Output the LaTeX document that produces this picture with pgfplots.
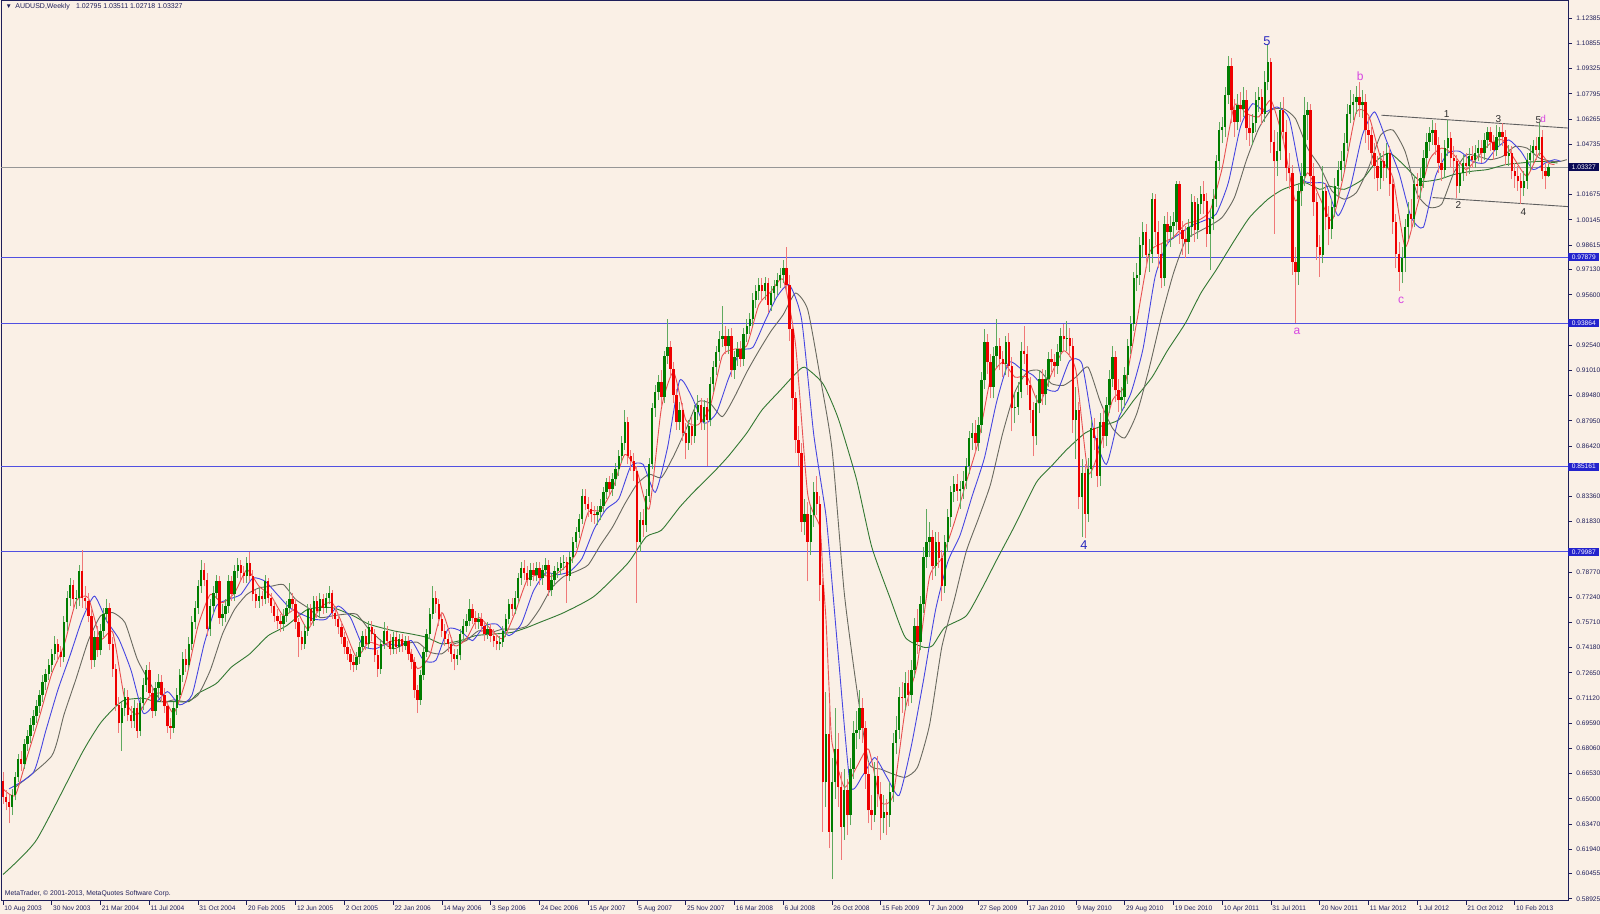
\documentclass[border=0pt]{standalone}
\usepackage{fontspec}
\setmainfont{Liberation Sans}
\usepackage{pgfplots}
\usepackage{pgfplotstable}
\pgfplotsset{compat=1.18}

\definecolor{bg}{RGB}{250,240,230}
\definecolor{fg}{RGB}{30,30,90}
\definecolor{bull}{RGB}{0,125,0}
\definecolor{bear}{RGB}{238,0,0}
\definecolor{bullwick}{RGB}{95,170,95}
\definecolor{bearwick}{RGB}{240,120,120}
\definecolor{maRed}{RGB}{232,80,80}
\definecolor{maBlue}{RGB}{70,70,225}
\definecolor{maGrey}{RGB}{105,105,95}
\definecolor{maGreen}{RGB}{50,120,50}
\definecolor{lvl}{RGB}{80,80,225}
\definecolor{lvlbox}{RGB}{35,35,205}
\definecolor{bidbox}{RGB}{10,10,85}
\definecolor{bid}{RGB}{150,150,150}
\definecolor{trend}{RGB}{95,95,95}
\definecolor{wave}{RGB}{45,45,45}
\definecolor{wavebig}{RGB}{40,40,190}
\definecolor{wavemag}{RGB}{215,70,225}

\newcommand\tk{\fontsize{3.3}{3.8}\selectfont}

% weekly AUDUSD candles, w = weeks since 10 Aug 2003
\pgfplotstableread{
w o h l c
0 0.661 0.666 0.647 0.651
1 0.651 0.655 0.643 0.648
2 0.648 0.652 0.635 0.645
3 0.645 0.656 0.640 0.652
4 0.652 0.666 0.649 0.663
5 0.663 0.677 0.660 0.674
6 0.674 0.679 0.667 0.671
7 0.671 0.686 0.668 0.683
8 0.683 0.692 0.679 0.688
9 0.688 0.699 0.684 0.695
10 0.695 0.704 0.691 0.700
11 0.700 0.710 0.696 0.706
12 0.706 0.716 0.702 0.713
13 0.713 0.725 0.709 0.721
14 0.721 0.729 0.716 0.726
15 0.726 0.735 0.722 0.731
16 0.731 0.741 0.727 0.738
17 0.738 0.749 0.734 0.744
18 0.744 0.747 0.733 0.739
19 0.739 0.743 0.730 0.736
20 0.736 0.761 0.733 0.757
21 0.757 0.776 0.752 0.772
22 0.772 0.784 0.767 0.780
23 0.780 0.783 0.765 0.771
24 0.771 0.777 0.765 0.772
25 0.772 0.792 0.767 0.788
26 0.788 0.801 0.766 0.772
27 0.772 0.779 0.765 0.770
28 0.770 0.775 0.757 0.761
29 0.761 0.765 0.729 0.734
30 0.734 0.752 0.730 0.748
31 0.748 0.755 0.736 0.740
32 0.740 0.756 0.737 0.752
33 0.752 0.766 0.748 0.762
34 0.762 0.771 0.757 0.766
35 0.766 0.769 0.740 0.744
36 0.744 0.748 0.724 0.729
37 0.729 0.732 0.703 0.707
38 0.707 0.712 0.690 0.696
39 0.696 0.709 0.679 0.705
40 0.705 0.717 0.700 0.712
41 0.712 0.716 0.697 0.701
42 0.701 0.706 0.693 0.697
43 0.697 0.710 0.693 0.705
44 0.705 0.708 0.687 0.691
45 0.691 0.712 0.688 0.708
46 0.708 0.723 0.704 0.719
47 0.719 0.731 0.715 0.728
48 0.728 0.733 0.711 0.714
49 0.714 0.718 0.699 0.703
50 0.703 0.721 0.700 0.717
51 0.717 0.726 0.712 0.721
52 0.721 0.725 0.709 0.713
53 0.713 0.717 0.702 0.706
54 0.706 0.709 0.690 0.694
55 0.694 0.699 0.686 0.693
56 0.693 0.709 0.690 0.705
57 0.705 0.717 0.701 0.713
58 0.713 0.729 0.710 0.725
59 0.725 0.739 0.721 0.735
60 0.735 0.741 0.727 0.731
61 0.731 0.748 0.728 0.744
62 0.744 0.761 0.740 0.757
63 0.757 0.770 0.753 0.766
64 0.766 0.783 0.762 0.779
65 0.779 0.795 0.775 0.789
66 0.789 0.793 0.779 0.783
67 0.783 0.787 0.749 0.753
68 0.753 0.771 0.749 0.767
69 0.767 0.779 0.762 0.775
70 0.775 0.786 0.771 0.782
71 0.782 0.785 0.756 0.760
72 0.760 0.768 0.755 0.762
73 0.762 0.771 0.757 0.767
74 0.767 0.786 0.763 0.782
75 0.782 0.785 0.770 0.774
76 0.774 0.792 0.770 0.788
77 0.788 0.796 0.784 0.792
78 0.792 0.795 0.783 0.787
79 0.787 0.791 0.781 0.785
80 0.785 0.797 0.781 0.793
81 0.793 0.800 0.782 0.785
82 0.785 0.789 0.770 0.774
83 0.774 0.777 0.766 0.770
84 0.770 0.778 0.766 0.773
85 0.773 0.776 0.767 0.771
86 0.771 0.786 0.768 0.782
87 0.782 0.784 0.769 0.772
88 0.772 0.775 0.763 0.767
89 0.767 0.770 0.757 0.761
90 0.761 0.765 0.753 0.758
91 0.758 0.762 0.751 0.756
92 0.756 0.765 0.752 0.761
93 0.761 0.770 0.757 0.766
94 0.766 0.781 0.763 0.771
95 0.771 0.775 0.764 0.768
96 0.768 0.771 0.753 0.757
97 0.757 0.760 0.736 0.748
98 0.748 0.752 0.740 0.744
99 0.744 0.756 0.741 0.752
100 0.752 0.768 0.749 0.765
101 0.765 0.768 0.754 0.758
102 0.758 0.773 0.755 0.770
103 0.770 0.773 0.760 0.764
104 0.764 0.775 0.760 0.771
105 0.771 0.774 0.762 0.766
106 0.766 0.775 0.763 0.772
107 0.772 0.779 0.768 0.775
108 0.775 0.777 0.759 0.763
109 0.763 0.767 0.755 0.759
110 0.759 0.762 0.750 0.754
111 0.754 0.757 0.744 0.748
112 0.748 0.751 0.738 0.742
113 0.742 0.746 0.734 0.738
114 0.738 0.741 0.728 0.733
115 0.733 0.737 0.727 0.731
116 0.731 0.739 0.728 0.736
117 0.736 0.745 0.732 0.742
118 0.742 0.752 0.739 0.749
119 0.749 0.753 0.740 0.744
120 0.744 0.758 0.741 0.754
121 0.754 0.758 0.746 0.750
122 0.750 0.753 0.733 0.737
123 0.737 0.740 0.724 0.729
124 0.729 0.747 0.726 0.744
125 0.744 0.757 0.741 0.752
126 0.752 0.755 0.742 0.746
127 0.746 0.750 0.737 0.741
128 0.741 0.751 0.738 0.748
129 0.748 0.751 0.738 0.742
130 0.742 0.750 0.739 0.747
131 0.747 0.750 0.739 0.743
132 0.743 0.749 0.740 0.746
133 0.746 0.749 0.734 0.738
134 0.738 0.741 0.729 0.733
135 0.733 0.736 0.711 0.716
136 0.716 0.719 0.702 0.710
137 0.710 0.728 0.707 0.725
138 0.725 0.742 0.722 0.739
139 0.739 0.753 0.736 0.750
140 0.750 0.766 0.747 0.762
141 0.762 0.779 0.759 0.772
142 0.772 0.776 0.763 0.768
143 0.768 0.771 0.755 0.759
144 0.759 0.763 0.748 0.752
145 0.752 0.756 0.743 0.747
146 0.747 0.750 0.739 0.744
147 0.744 0.748 0.733 0.738
148 0.738 0.741 0.728 0.735
149 0.735 0.741 0.731 0.737
150 0.737 0.753 0.734 0.750
151 0.750 0.759 0.746 0.755
152 0.755 0.762 0.751 0.758
153 0.758 0.771 0.755 0.765
154 0.765 0.768 0.756 0.760
155 0.760 0.764 0.753 0.757
156 0.757 0.763 0.753 0.759
157 0.759 0.763 0.751 0.755
158 0.755 0.758 0.746 0.750
159 0.750 0.757 0.747 0.753
160 0.753 0.756 0.745 0.749
161 0.749 0.753 0.742 0.746
162 0.746 0.750 0.740 0.744
163 0.744 0.749 0.740 0.745
164 0.745 0.755 0.742 0.752
165 0.752 0.762 0.748 0.759
166 0.759 0.771 0.756 0.768
167 0.768 0.772 0.761 0.765
168 0.765 0.776 0.762 0.772
169 0.772 0.787 0.769 0.784
170 0.784 0.794 0.780 0.790
171 0.790 0.795 0.783 0.787
172 0.787 0.791 0.779 0.783
173 0.783 0.793 0.779 0.789
174 0.789 0.793 0.782 0.786
175 0.786 0.794 0.782 0.790
176 0.790 0.794 0.780 0.784
177 0.784 0.792 0.780 0.789
178 0.789 0.796 0.785 0.792
179 0.792 0.795 0.773 0.777
180 0.777 0.787 0.773 0.783
181 0.783 0.791 0.779 0.788
182 0.788 0.794 0.784 0.790
183 0.790 0.797 0.786 0.793
184 0.793 0.798 0.789 0.794
185 0.794 0.797 0.769 0.785
186 0.785 0.800 0.782 0.797
187 0.797 0.809 0.793 0.806
188 0.806 0.815 0.802 0.812
189 0.812 0.823 0.808 0.820
190 0.820 0.838 0.817 0.834
191 0.834 0.838 0.825 0.829
192 0.829 0.833 0.821 0.826
193 0.826 0.830 0.818 0.823
194 0.823 0.828 0.817 0.822
195 0.822 0.828 0.816 0.824
196 0.824 0.832 0.819 0.828
197 0.828 0.839 0.824 0.836
198 0.836 0.845 0.832 0.842
199 0.842 0.846 0.834 0.838
200 0.838 0.848 0.834 0.844
201 0.844 0.854 0.840 0.850
202 0.850 0.862 0.846 0.858
203 0.858 0.870 0.854 0.866
204 0.866 0.886 0.862 0.879
205 0.879 0.882 0.853 0.858
206 0.858 0.862 0.849 0.855
207 0.855 0.860 0.843 0.849
208 0.849 0.852 0.769 0.806
209 0.806 0.824 0.800 0.819
210 0.819 0.826 0.809 0.816
211 0.816 0.838 0.812 0.834
212 0.834 0.857 0.830 0.853
213 0.853 0.890 0.850 0.887
214 0.887 0.901 0.882 0.897
215 0.897 0.907 0.892 0.903
216 0.903 0.910 0.888 0.894
217 0.894 0.922 0.890 0.919
218 0.919 0.941 0.914 0.924
219 0.924 0.928 0.906 0.911
220 0.911 0.915 0.890 0.895
221 0.895 0.899 0.874 0.879
222 0.879 0.891 0.874 0.886
223 0.886 0.890 0.867 0.872
224 0.872 0.878 0.856 0.866
225 0.866 0.880 0.862 0.876
226 0.876 0.882 0.865 0.870
227 0.870 0.889 0.866 0.885
228 0.885 0.895 0.880 0.889
229 0.889 0.893 0.874 0.879
230 0.879 0.892 0.874 0.888
231 0.888 0.893 0.852 0.880
232 0.880 0.906 0.876 0.902
233 0.902 0.916 0.897 0.912
234 0.912 0.925 0.907 0.921
235 0.921 0.934 0.916 0.929
236 0.929 0.949 0.924 0.931
237 0.931 0.937 0.920 0.925
238 0.925 0.935 0.920 0.931
239 0.931 0.936 0.906 0.910
240 0.910 0.922 0.905 0.918
241 0.918 0.927 0.913 0.923
242 0.923 0.928 0.912 0.917
243 0.917 0.936 0.913 0.932
244 0.932 0.941 0.927 0.937
245 0.937 0.945 0.932 0.941
246 0.941 0.957 0.937 0.953
247 0.953 0.962 0.948 0.958
248 0.958 0.966 0.953 0.962
249 0.962 0.966 0.952 0.958
250 0.958 0.967 0.953 0.963
251 0.963 0.966 0.945 0.950
252 0.950 0.961 0.946 0.957
253 0.957 0.965 0.952 0.961
254 0.961 0.969 0.956 0.965
255 0.965 0.972 0.960 0.968
256 0.968 0.977 0.963 0.972
257 0.972 0.985 0.957 0.962
258 0.962 0.968 0.928 0.935
259 0.935 0.939 0.886 0.893
260 0.893 0.897 0.860 0.868
261 0.868 0.876 0.852 0.860
262 0.860 0.866 0.812 0.818
263 0.818 0.832 0.810 0.823
264 0.823 0.830 0.782 0.806
265 0.806 0.828 0.798 0.822
266 0.822 0.842 0.815 0.836
267 0.836 0.846 0.822 0.829
268 0.829 0.834 0.770 0.780
269 0.780 0.784 0.630 0.660
270 0.660 0.715 0.645 0.689
271 0.689 0.705 0.620 0.630
272 0.630 0.675 0.601 0.660
273 0.660 0.705 0.650 0.680
274 0.680 0.690 0.645 0.657
275 0.657 0.666 0.613 0.633
276 0.633 0.668 0.625 0.655
277 0.655 0.662 0.628 0.640
278 0.640 0.675 0.634 0.668
279 0.668 0.697 0.662 0.690
280 0.690 0.703 0.680 0.692
281 0.692 0.716 0.686 0.705
282 0.705 0.711 0.684 0.693
283 0.693 0.697 0.656 0.665
284 0.665 0.672 0.635 0.643
285 0.643 0.652 0.631 0.640
286 0.640 0.672 0.636 0.664
287 0.664 0.676 0.645 0.653
288 0.653 0.660 0.625 0.638
289 0.638 0.652 0.629 0.642
290 0.642 0.650 0.628 0.640
291 0.640 0.660 0.633 0.654
292 0.654 0.690 0.648 0.684
293 0.684 0.700 0.677 0.692
294 0.692 0.718 0.686 0.712
295 0.712 0.721 0.702 0.711
296 0.711 0.727 0.704 0.720
297 0.720 0.728 0.706 0.713
298 0.713 0.734 0.708 0.728
299 0.728 0.760 0.723 0.755
300 0.755 0.765 0.738 0.745
301 0.745 0.773 0.740 0.768
302 0.768 0.803 0.763 0.797
303 0.797 0.826 0.790 0.806
304 0.806 0.818 0.797 0.809
305 0.809 0.813 0.783 0.791
306 0.791 0.812 0.785 0.806
307 0.806 0.812 0.790 0.796
308 0.796 0.801 0.770 0.779
309 0.779 0.810 0.775 0.806
310 0.806 0.826 0.800 0.821
311 0.821 0.840 0.815 0.836
312 0.836 0.846 0.830 0.841
313 0.841 0.847 0.831 0.837
314 0.837 0.843 0.826 0.838
315 0.838 0.849 0.832 0.843
316 0.843 0.857 0.838 0.852
317 0.852 0.873 0.847 0.869
318 0.869 0.878 0.862 0.872
319 0.872 0.880 0.860 0.866
320 0.866 0.882 0.861 0.877
321 0.877 0.909 0.872 0.904
322 0.904 0.935 0.899 0.927
323 0.927 0.932 0.908 0.915
324 0.915 0.920 0.893 0.900
325 0.900 0.924 0.893 0.919
326 0.919 0.941 0.912 0.925
327 0.925 0.930 0.910 0.917
328 0.917 0.922 0.906 0.914
329 0.914 0.931 0.907 0.927
330 0.927 0.933 0.906 0.913
331 0.913 0.918 0.873 0.887
332 0.887 0.897 0.878 0.888
333 0.888 0.903 0.883 0.897
334 0.897 0.927 0.893 0.922
335 0.922 0.937 0.914 0.920
336 0.920 0.925 0.895 0.901
337 0.901 0.906 0.878 0.886
338 0.886 0.891 0.858 0.870
339 0.870 0.895 0.865 0.890
340 0.890 0.910 0.884 0.905
341 0.905 0.911 0.889 0.896
342 0.896 0.910 0.889 0.905
343 0.905 0.921 0.900 0.917
344 0.917 0.923 0.909 0.915
345 0.915 0.920 0.906 0.913
346 0.913 0.926 0.908 0.921
347 0.921 0.936 0.916 0.931
348 0.931 0.938 0.921 0.929
349 0.929 0.940 0.922 0.930
350 0.930 0.936 0.918 0.925
351 0.925 0.930 0.872 0.880
352 0.880 0.900 0.856 0.886
353 0.886 0.891 0.826 0.833
354 0.833 0.856 0.809 0.848
355 0.848 0.853 0.808 0.823
356 0.823 0.857 0.818 0.850
357 0.850 0.880 0.845 0.875
358 0.875 0.881 0.862 0.869
359 0.869 0.875 0.839 0.846
360 0.846 0.884 0.840 0.879
361 0.879 0.887 0.863 0.870
362 0.870 0.894 0.864 0.889
363 0.889 0.910 0.884 0.905
364 0.905 0.925 0.900 0.918
365 0.918 0.922 0.891 0.898
366 0.898 0.905 0.885 0.892
367 0.892 0.900 0.884 0.894
368 0.894 0.912 0.887 0.907
369 0.907 0.929 0.902 0.925
370 0.925 0.943 0.920 0.938
371 0.938 0.970 0.934 0.966
372 0.966 0.975 0.958 0.968
373 0.968 0.991 0.962 0.986
374 0.986 1.000 0.978 0.994
375 0.994 0.999 0.972 0.980
376 0.980 0.990 0.970 0.981
377 0.981 1.018 0.975 1.014
378 1.014 1.017 0.986 0.994
379 0.994 1.001 0.972 0.981
380 0.981 0.987 0.960 0.966
381 0.966 1.004 0.961 0.999
382 0.999 1.006 0.986 0.994
383 0.994 1.004 0.985 0.998
384 0.998 1.006 0.990 1.000
385 1.000 1.025 0.995 1.023
386 1.023 1.025 0.987 0.995
387 0.995 1.001 0.980 0.990
388 0.990 0.998 0.978 0.988
389 0.988 1.002 0.981 0.997
390 0.997 1.017 0.991 1.012
391 1.012 1.016 0.988 0.995
392 0.995 1.015 0.990 1.011
393 1.011 1.022 1.005 1.017
394 1.017 1.025 1.005 1.013
395 1.013 1.018 0.985 0.993
396 0.993 1.008 0.971 1.002
397 1.002 1.020 0.995 1.014
398 1.014 1.041 1.009 1.037
399 1.037 1.061 1.032 1.056
400 1.056 1.064 1.048 1.058
401 1.058 1.082 1.052 1.077
402 1.077 1.101 1.072 1.095
403 1.095 1.100 1.060 1.068
404 1.068 1.075 1.052 1.061
405 1.061 1.078 1.056 1.071
406 1.071 1.079 1.061 1.069
407 1.069 1.082 1.064 1.074
408 1.074 1.080 1.050 1.057
409 1.057 1.065 1.046 1.054
410 1.054 1.066 1.047 1.060
411 1.060 1.079 1.055 1.074
412 1.074 1.082 1.067 1.076
413 1.076 1.081 1.059 1.066
414 1.066 1.092 1.061 1.085
415 1.085 1.108 1.080 1.097
416 1.097 1.100 1.042 1.049
417 1.049 1.056 0.993 1.037
418 1.037 1.055 1.028 1.043
419 1.043 1.073 1.038 1.068
420 1.068 1.076 1.048 1.055
421 1.055 1.062 1.025 1.033
422 1.033 1.042 1.020 1.030
423 1.030 1.035 0.968 0.976
424 0.976 0.985 0.939 0.970
425 0.970 1.024 0.962 1.019
426 1.019 1.036 1.010 1.028
427 1.028 1.076 1.022 1.065
428 1.065 1.073 1.050 1.068
429 1.068 1.072 1.022 1.028
430 1.028 1.036 1.004 1.012
431 1.012 1.018 0.977 0.985
432 0.985 0.992 0.967 0.980
433 0.980 1.034 0.975 1.019
434 1.019 1.024 0.995 1.003
435 1.003 1.010 0.986 0.996
436 0.996 1.014 0.990 1.009
437 1.009 1.027 1.003 1.022
438 1.022 1.037 1.016 1.032
439 1.032 1.043 1.025 1.037
440 1.037 1.054 1.032 1.048
441 1.048 1.072 1.043 1.066
442 1.066 1.080 1.060 1.071
443 1.071 1.078 1.062 1.073
444 1.073 1.083 1.066 1.076
445 1.076 1.085 1.064 1.071
446 1.071 1.080 1.063 1.073
447 1.073 1.078 1.048 1.056
448 1.056 1.064 1.044 1.053
449 1.053 1.058 1.035 1.042
450 1.042 1.048 1.026 1.034
451 1.034 1.040 1.019 1.027
452 1.027 1.042 1.020 1.037
453 1.037 1.043 1.025 1.033
454 1.033 1.048 1.027 1.042
455 1.042 1.046 1.016 1.023
456 1.023 1.027 0.993 1.000
457 1.000 1.005 0.972 0.981
458 0.981 0.988 0.958 0.970
459 0.970 0.985 0.963 0.978
460 0.978 1.002 0.970 0.997
461 0.997 1.012 0.990 1.005
462 1.005 1.014 0.995 1.002
463 1.002 1.028 0.997 1.023
464 1.023 1.030 1.014 1.022
465 1.022 1.033 1.015 1.027
466 1.027 1.044 1.021 1.039
467 1.039 1.054 1.033 1.049
468 1.049 1.058 1.043 1.054
469 1.054 1.062 1.047 1.056
470 1.056 1.060 1.041 1.047
471 1.047 1.052 1.030 1.036
472 1.036 1.042 1.025 1.032
473 1.032 1.050 1.027 1.045
474 1.045 1.062 1.040 1.051
475 1.051 1.055 1.033 1.039
476 1.039 1.046 1.030 1.037
477 1.037 1.041 1.015 1.022
478 1.022 1.035 1.018 1.030
479 1.030 1.041 1.025 1.036
480 1.036 1.042 1.028 1.034
481 1.034 1.045 1.029 1.040
482 1.040 1.046 1.033 1.038
483 1.038 1.047 1.033 1.042
484 1.042 1.050 1.037 1.045
485 1.045 1.050 1.036 1.042
486 1.042 1.054 1.038 1.050
487 1.050 1.058 1.045 1.055
488 1.055 1.058 1.043 1.049
489 1.049 1.053 1.038 1.044
490 1.044 1.059 1.040 1.052
491 1.052 1.058 1.046 1.055
492 1.055 1.060 1.046 1.052
493 1.052 1.056 1.035 1.040
494 1.040 1.047 1.034 1.042
495 1.042 1.046 1.026 1.031
496 1.031 1.036 1.021 1.028
497 1.028 1.034 1.019 1.025
498 1.025 1.030 1.011 1.021
499 1.021 1.031 1.016 1.025
500 1.025 1.042 1.020 1.038
501 1.038 1.047 1.032 1.042
502 1.042 1.050 1.036 1.046
503 1.046 1.052 1.038 1.044
504 1.044 1.060 1.040 1.052
505 1.052 1.056 1.026 1.031
506 1.031 1.036 1.020 1.028
507 1.02795 1.03511 1.02718 1.03327
}\ohlc

\begin{document}
\begin{tikzpicture}
\path[use as bounding box, fill=bg] (0,0) rectangle (800pt,457pt);
\begin{axis}[
  at={(0.5pt,6.5pt)}, anchor=south west,
  scale only axis, width=783.5pt, height=450pt,
  xmin=-0.656, xmax=513.45, ymin=0.58791, ymax=1.13435,
  clip=false,
  axis line style={draw=fg, line width=0.5pt},
  tick style={draw=fg, line width=0.4pt},
  tick align=outside, major tick length=2pt,
  xtick pos=left, ytick pos=right, yticklabel pos=right,
  xtick={0,16,...,496},
  xticklabels={10 Aug 2003,30 Nov 2003,21 Mar 2004,11 Jul 2004,31 Oct 2004,20 Feb 2005,12 Jun 2005,2 Oct 2005,22 Jan 2006,14 May 2006,3 Sep 2006,24 Dec 2006,15 Apr 2007,5 Aug 2007,25 Nov 2007,16 Mar 2008,6 Jul 2008,26 Oct 2008,15 Feb 2009,7 Jun 2009,27 Sep 2009,17 Jan 2010,9 May 2010,29 Aug 2010,19 Dec 2010,10 Apr 2011,31 Jul 2011,20 Nov 2011,11 Mar 2012,1 Jul 2012,21 Oct 2012,10 Feb 2013},
  xticklabel style={anchor=north west, xshift=-0.3pt, yshift=0.6pt, inner sep=0.8pt, font=\tk, text=fg},
  ytick={1.12385,1.10855,1.09325,1.07795,1.06265,1.04735,1.01675,1.00145,0.98615,0.97130,0.95600,0.92540,0.91010,0.89480,0.87950,0.86420,0.83360,0.81830,0.78770,0.77240,0.75710,0.74180,0.72650,0.71120,0.69590,0.68060,0.66530,0.65000,0.63470,0.61940,0.60455,0.58925},
  yticklabels={1.12385,1.10855,1.09325,1.07795,1.06265,1.04735,1.01675,1.00145,0.98615,0.97130,0.95600,0.92540,0.91010,0.89480,0.87950,0.86420,0.83360,0.81830,0.78770,0.77240,0.75710,0.74180,0.72650,0.71120,0.69590,0.68060,0.66530,0.65000,0.63470,0.61940,0.60455,0.58925},
  yticklabel style={anchor=west, inner sep=0.8pt, xshift=1.2pt, font=\tk, text=fg},
  ma/.style={line width=0.45pt, smooth, tension=0.35},
]

% support / resistance levels and bid line
\addplot[lvl, line width=0.5pt] coordinates {(-0.656,0.97879) (513.45,0.97879)};
\addplot[lvl, line width=0.5pt] coordinates {(-0.656,0.93864) (513.45,0.93864)};
\addplot[lvl, line width=0.5pt] coordinates {(-0.656,0.85161) (513.45,0.85161)};
\addplot[lvl, line width=0.5pt] coordinates {(-0.656,0.79987) (513.45,0.79987)};
\addplot[bid, line width=0.5pt] coordinates {(-0.656,1.03327) (513.45,1.03327)};

% trend channel
\addplot[trend, line width=0.45pt] coordinates {(452.2,1.0650) (513.45,1.0572)};
\addplot[trend, line width=0.45pt] coordinates {(469,1.0150) (513.45,1.0095)};

% long moving average
\addplot[maGreen, ma] coordinates {
(0,0.604) (11,0.625) (26,0.678) (32,0.696) (37,0.706) (40,0.710) (46,0.711) (50,0.709)
(56,0.709) (61,0.709) (64,0.714) (70,0.720) (75,0.730) (81,0.738) (87,0.749) (93,0.755)
(100,0.765) (108,0.766) (115,0.761) (120,0.756) (128,0.752) (134,0.750) (139,0.748) (144,0.744)
(150,0.746) (155,0.749) (161,0.750) (167,0.751) (172,0.754) (176,0.757) (184,0.763) (194,0.773)
(205,0.793) (211,0.809) (216,0.813) (222,0.827) (227,0.837) (233,0.848) (238,0.858) (244,0.872)
(249,0.886) (255,0.898) (260,0.908) (263,0.912) (269,0.902) (274,0.881) (280,0.844) (285,0.803)
(291,0.772) (296,0.748) (302,0.742) (305,0.743) (309,0.754) (316,0.761) (321,0.777) (326,0.795)
(332,0.816) (339,0.842) (344,0.852) (349,0.862) (355,0.872) (360,0.876) (366,0.880) (371,0.892)
(377,0.906) (382,0.922) (388,0.939) (393,0.957) (398,0.971) (404,0.989) (409,1.003) (415,1.014)
(420,1.020) (427,1.024) (432,1.020) (435,1.022) (440,1.020) (446,1.026) (451,1.038) (455,1.042)
(460,1.034) (465,1.025) (471,1.026) (476,1.029) (482,1.031) (487,1.032) (493,1.035) (498,1.036)
(504,1.037) (510,1.036)};

% slow moving average
\addplot[maGrey, ma] coordinates {
(4,0.657) (16,0.676) (20,0.701) (24,0.723) (28,0.746) (32,0.761) (36,0.763) (40,0.757)
(44,0.735) (48,0.721) (52,0.709) (56,0.710) (60,0.709) (64,0.713) (68,0.728) (72,0.750)
(76,0.765) (80,0.774) (84,0.778) (88,0.779) (92,0.780) (96,0.771) (100,0.766) (104,0.760)
(108,0.761) (112,0.762) (116,0.762) (120,0.753) (124,0.746) (128,0.741) (132,0.744) (136,0.745)
(140,0.739) (144,0.738) (148,0.744) (152,0.746) (156,0.752) (160,0.751) (164,0.753) (168,0.753)
(172,0.755) (176,0.765) (180,0.778) (184,0.785) (188,0.788) (192,0.792) (196,0.804) (200,0.815)
(204,0.829) (208,0.841) (212,0.847) (216,0.845) (220,0.858) (224,0.874) (228,0.891) (232,0.890)
(236,0.882) (240,0.894) (244,0.909) (248,0.922) (252,0.934) (256,0.944) (260,0.957) (264,0.947)
(268,0.907) (272,0.862) (276,0.775) (280,0.718) (284,0.672) (288,0.668) (292,0.665) (296,0.663)
(300,0.669) (304,0.695) (308,0.742) (312,0.770) (316,0.800) (320,0.820) (324,0.841) (328,0.872)
(332,0.897) (336,0.909) (340,0.910) (344,0.902) (348,0.901) (352,0.906) (356,0.912) (360,0.891)
(364,0.875) (368,0.869) (372,0.884) (376,0.911) (380,0.942) (384,0.969) (388,0.989) (392,0.994)
(396,0.998) (400,1.003) (404,1.015) (408,1.038) (412,1.057) (416,1.068) (420,1.069) (424,1.063)
(428,1.045) (432,1.034) (436,1.019) (440,1.014) (444,1.018) (448,1.033) (452,1.053) (456,1.056)
(460,1.043) (464,1.017) (468,1.009) (472,1.011) (476,1.030) (480,1.041) (484,1.040) (488,1.038)
(492,1.040) (496,1.046) (500,1.045) (504,1.039) (508,1.037) (511,1.037) (513,1.038)};

% medium moving average
\addplot[maBlue, ma] coordinates {
(2,0.656) (10,0.666) (14,0.691) (18,0.716) (22,0.737) (26,0.759) (30,0.773) (34,0.758)
(38,0.747) (42,0.728) (46,0.702) (50,0.708) (54,0.715) (58,0.707) (62,0.713) (66,0.744)
(70,0.767) (74,0.771) (78,0.774) (82,0.784) (86,0.782) (90,0.774) (94,0.766) (98,0.762)
(102,0.759) (106,0.759) (110,0.767) (114,0.760) (118,0.743) (122,0.741) (126,0.744) (130,0.743)
(134,0.746) (138,0.734) (142,0.734) (146,0.753) (150,0.752) (154,0.746) (158,0.755) (162,0.756)
(166,0.749) (170,0.756) (174,0.776) (178,0.787) (182,0.786) (186,0.788) (190,0.796) (194,0.814)
(198,0.826) (202,0.832) (206,0.852) (210,0.853) (214,0.836) (218,0.863) (222,0.904) (226,0.894)
(230,0.878) (234,0.884) (238,0.905) (242,0.922) (246,0.924) (250,0.940) (254,0.955) (258,0.962)
(262,0.941) (266,0.871) (270,0.822) (272,0.781) (274,0.738) (278,0.658) (282,0.664) (286,0.675)
(290,0.663) (294,0.652) (298,0.682) (302,0.722) (306,0.765) (310,0.794) (314,0.810) (318,0.834)
(322,0.857) (326,0.891) (330,0.915) (334,0.911) (338,0.907) (342,0.899) (346,0.898) (350,0.916)
(354,0.914) (358,0.872) (362,0.853) (366,0.881) (370,0.896) (374,0.923) (378,0.967) (382,0.987)
(386,0.993) (390,0.998) (394,1.001) (398,1.005) (402,1.024) (406,1.058) (410,1.072) (414,1.067)
(418,1.070) (422,1.063) (426,1.027) (430,1.024) (434,1.023) (438,1.004) (442,1.021) (446,1.053)
(450,1.067) (454,1.049) (458,1.030) (462,1.003) (466,0.997) (470,1.028) (474,1.042) (478,1.043)
(482,1.037) (486,1.036) (490,1.045) (494,1.050) (498,1.043) (502,1.032) (506,1.036) (509,1.038)
(511,1.037)};

% fast moving average
\addplot[maRed, ma] coordinates {
(0,0.656) (4,0.652) (8,0.676) (12,0.700) (16,0.726) (20,0.743) (24,0.770) (28,0.772)
(32,0.747) (36,0.751) (40,0.710) (44,0.701) (48,0.712) (52,0.714) (56,0.702) (60,0.722)
(64,0.755) (68,0.774) (72,0.769) (76,0.775) (80,0.789) (84,0.779) (88,0.773) (92,0.761)
(96,0.765) (100,0.753) (104,0.766) (108,0.769) (112,0.753) (116,0.736) (120,0.745) (124,0.743)
(128,0.746) (132,0.745) (136,0.729) (140,0.737) (144,0.763) (148,0.743) (152,0.747) (156,0.760)
(160,0.753) (164,0.747) (168,0.763) (172,0.783) (176,0.786) (180,0.785) (184,0.790) (188,0.799)
(192,0.824) (196,0.825) (200,0.838) (204,0.859) (208,0.849) (212,0.826) (216,0.887) (220,0.909)
(224,0.880) (228,0.877) (232,0.888) (236,0.919) (240,0.923) (244,0.925) (248,0.950) (252,0.958)
(256,0.965) (260,0.926) (264,0.835) (268,0.815) (269,0.785) (270,0.759) (271,0.718) (272,0.684)
(276,0.657) (280,0.669) (284,0.680) (288,0.648) (292,0.652) (296,0.704) (300,0.732) (304,0.785)
(308,0.796) (312,0.817) (316,0.842) (320,0.867) (324,0.905) (328,0.915) (332,0.906) (336,0.906)
(340,0.890) (344,0.908) (348,0.922) (352,0.910) (356,0.848) (360,0.864) (364,0.892) (368,0.901)
(372,0.940) (376,0.981) (380,0.987) (384,0.991) (388,0.999) (392,1.001) (396,1.007) (400,1.033)
(404,1.071) (408,1.066) (412,1.064) (416,1.074) (420,1.050) (424,1.013) (428,1.030) (432,1.015)
(436,1.001) (440,1.030) (444,1.067) (448,1.065) (452,1.039) (456,1.027) (460,0.985) (464,1.010)
(468,1.038) (472,1.045) (476,1.041) (480,1.032) (484,1.040) (488,1.048) (492,1.050) (496,1.038)
(500,1.028) (504,1.042) (507,1.036) (509,1.035)};

% candles: wicks then bodies, bull and bear
\addplot[draw=none, mark=none, forget plot,
  restrict expr to domain={\thisrow{c}-\thisrow{o}}{0:1},
  error bars/.cd, y dir=plus, y explicit, error mark=none,
  error bar style={draw=bullwick, line width=0.5pt}]
  table[x=w, y=l, y error plus expr={\thisrow{h}-\thisrow{l}}] {\ohlc};
\addplot[draw=none, mark=none, forget plot,
  restrict expr to domain={\thisrow{o}-\thisrow{c}}{0.00001:1},
  error bars/.cd, y dir=plus, y explicit, error mark=none,
  error bar style={draw=bearwick, line width=0.5pt}]
  table[x=w, y=l, y error plus expr={\thisrow{h}-\thisrow{l}}] {\ohlc};
\addplot[draw=none, mark=none, forget plot,
  restrict expr to domain={\thisrow{c}-\thisrow{o}}{0:1},
  error bars/.cd, y dir=plus, y explicit, error mark=none,
  error bar style={draw=bull, line width=1.2pt}]
  table[x=w, y=o, y error plus expr={\thisrow{c}-\thisrow{o}}] {\ohlc};
\addplot[draw=none, mark=none, forget plot,
  restrict expr to domain={\thisrow{o}-\thisrow{c}}{0.00001:1},
  error bars/.cd, y dir=plus, y explicit, error mark=none,
  error bar style={draw=bear, line width=1.2pt}]
  table[x=w, y=c, y error plus expr={\thisrow{o}-\thisrow{c}}] {\ohlc};

% wave labels
\node[text=wavebig, font=\fontsize{6.4}{7}\selectfont] at (axis cs:414.7,1.1102) {5};
\node[text=wavebig, font=\fontsize{6.4}{7}\selectfont] at (axis cs:354.6,0.8042) {4};
\node[text=wavemag, font=\fontsize{6}{7}\selectfont] at (axis cs:424.5,0.9336) {a};
\node[text=wavemag, font=\fontsize{6}{7}\selectfont] at (axis cs:445.3,1.0885) {b};
\node[text=wavemag, font=\fontsize{6}{7}\selectfont] at (axis cs:458.7,0.9528) {c};
\node[text=wave, font=\fontsize{5}{6}\selectfont] at (axis cs:473.6,1.0656) {1};
\node[text=wave, font=\fontsize{5}{6}\selectfont] at (axis cs:477.5,1.0105) {2};
\node[text=wave, font=\fontsize{5}{6}\selectfont] at (axis cs:490.6,1.0625) {3};
\node[text=wave, font=\fontsize{5}{6}\selectfont] at (axis cs:498.8,1.0064) {4};
\node[text=wave, font=\fontsize{5}{6}\selectfont] at (axis cs:503.7,1.0621) {5};
\node[text=wavemag, font=\fontsize{5}{6}\selectfont] at (axis cs:505.3,1.0625) {d};

% header and footer texts
\node[anchor=west, inner sep=0pt, text=fg, font=\fontsize{3.5}{4}\selectfont] at (axis cs:0.7,1.1307) {\fontsize{3.2}{3.6}\selectfont▼\hspace{1.8pt}\fontsize{3.5}{4}\selectfont AUDUSD,Weekly\hspace{2.2pt} 1.02795 1.03511 1.02718 1.03327};
\node[anchor=west, inner sep=0pt, text=fg, font=\fontsize{3.4}{4}\selectfont] at (axis cs:0.5,0.5922) {MetaTrader, © 2001-2013, MetaQuotes Software Corp.};

% price boxes on the scale
\node[anchor=west, fill=lvlbox, text=white, font=\tk, inner sep=0.4pt, minimum width=15.4pt, minimum height=4pt] at (axis cs:513.45,0.97879) {0.97879};
\node[anchor=west, fill=lvlbox, text=white, font=\tk, inner sep=0.4pt, minimum width=15.4pt, minimum height=4pt] at (axis cs:513.45,0.93864) {0.93864};
\node[anchor=west, fill=lvlbox, text=white, font=\tk, inner sep=0.4pt, minimum width=15.4pt, minimum height=4pt] at (axis cs:513.45,0.85161) {0.85161};
\node[anchor=west, fill=lvlbox, text=white, font=\tk, inner sep=0.4pt, minimum width=15.4pt, minimum height=4pt] at (axis cs:513.45,0.79987) {0.79987};
\node[anchor=west, fill=bidbox, text=white, font=\tk, inner sep=0.4pt, minimum width=15.4pt, minimum height=4pt] at (axis cs:513.45,1.03327) {1.03327};
\end{axis}
\end{tikzpicture}
\end{document}
